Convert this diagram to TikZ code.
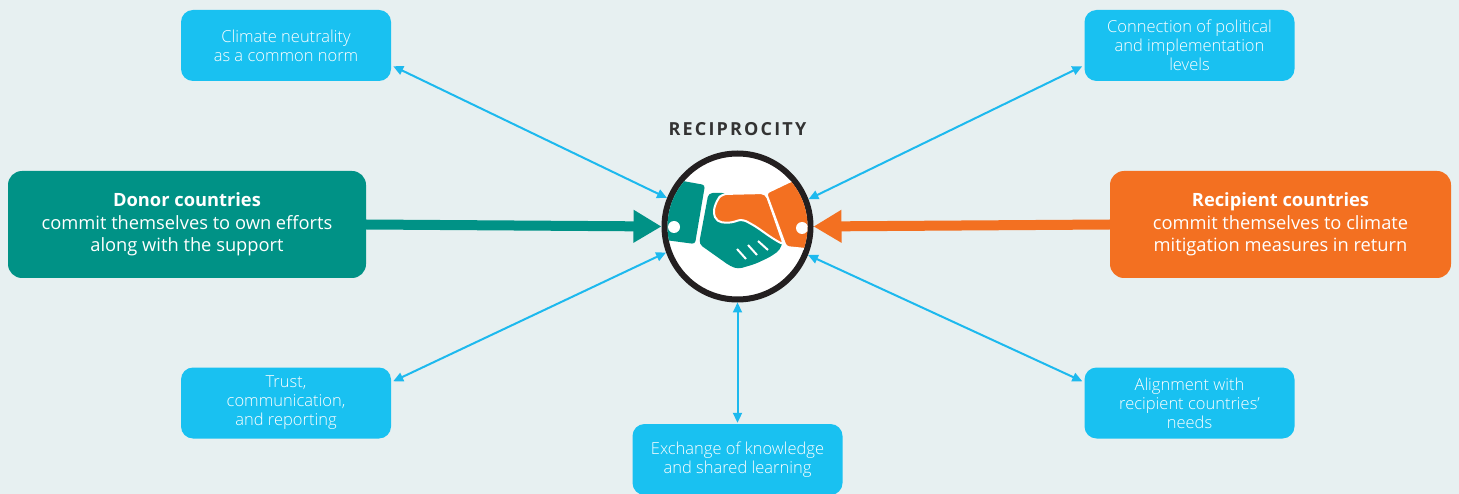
\documentclass[tikz,border=0pt]{standalone}
\usepackage{fontspec}
\setmainfont{Open Sans}
\newfontfamily\lightfont{Open Sans Light}
\usetikzlibrary{arrows.meta,calc}
\definecolor{bg}{HTML}{E7F0F1}
\definecolor{tealc}{HTML}{009286}
\definecolor{orangec}{HTML}{F37021}
\definecolor{lblue}{HTML}{19C1F1}
\definecolor{ablue}{HTML}{1DB9EE}
\definecolor{darkc}{HTML}{231F20}
\definecolor{titlec}{HTML}{333333}
\tikzset{
  smallbox/.style={fill=lblue, rounded corners=12pt, minimum width=210pt, minimum height=71pt,
    text=white, align=center, inner sep=0pt, font=\lightfont\fontsize{16.5}{19}\selectfont},
  bigbox/.style={rounded corners=14pt, minimum height=107pt,
    text=white, align=center, inner sep=0pt, font=\fontsize{18.3}{22.5}\selectfont},
  thinarrow/.style={draw=ablue, line width=2pt, {Triangle[length=10pt,width=9pt]}-{Triangle[length=10pt,width=9pt]}},
  thickarrow/.style={line width=10pt, -{Triangle[length=28pt,width=31pt]}},
}
\begin{document}
\begin{tikzpicture}[x=1pt,y=-1pt]
\useasboundingbox[fill=bg] (0,0) rectangle (1459,494);

% boxes
\node[smallbox] (climate) at (286,45.5) {Climate neutrality\\as a common norm};
\node[smallbox] (connection) at (1189.5,45.5) {Connection of political\\and implementation\\levels};
\node[smallbox] (trust) at (286,403) {Trust,\\communication,\\and reporting};
\node[smallbox] (alignment) at (1189.5,403) {Alignment with\\recipient countries’\\needs};
\node[smallbox] (exchange) at (737.5,459.5) {Exchange of knowledge\\and shared learning};
\node[bigbox, fill=tealc, minimum width=358pt] (donor) at (187,224.5)
  {\textbf{Donor countries}\\commit themselves to own efforts\\along with the support};
\node[bigbox, fill=orangec, minimum width=341pt] (recipient) at (1280.5,224.5)
  {\textbf{Recipient countries}\\commit themselves to climate\\mitigation measures in return};

% title
\node[text=titlec, font=\fontsize{18}{20}\selectfont\bfseries\addfontfeatures{LetterSpace=12}] (title) at (737.5,129) {RECIPROCITY};

% hub
\node[circle, draw=darkc, fill=white, line width=6pt, minimum size=146pt, inner sep=0pt] (hub) at (737.5,226.5) {};

% handshake
\begin{scope}
\clip (737.5,226.5) circle[radius=70pt];
% teal cuff
\fill[tealc, rounded corners=3pt] (655,176) -- (705,185) -- (695,244) -- (650,238) -- cycle;
\fill[white] (674,227) circle[radius=6pt];
% teal hand
\fill[tealc, rounded corners=4pt] (708.5,193) -- (726,193) -- (748,207) -- (770,228) -- (783,240)
  -- (780,250) -- (770,257) -- (755,264) -- (738,269) -- (730,266) -- (699,244) -- cycle;
\draw[white, line width=2pt] (737,249) -- (746,259) (748,245) -- (757,255) (758,241) -- (768,250);
% orange hand
\filldraw[fill=orangec, draw=white, line width=2pt, rounded corners=5pt]
  (722,194) -- (766,193) -- (784,245) -- (772,238) -- (755,226) -- (742,219)
  -- (731,223) -- (717,222) -- (713,212) -- (717,200) -- cycle;
% orange cuff
\filldraw[fill=orangec, draw=white, line width=2pt, rounded corners=3pt]
  (766,193) -- (791,181) -- (835,172) -- (835,252) -- (786,247) -- cycle;
\fill[white] (802,228) circle[radius=6pt];
\end{scope}

% thick arrows
\draw[thickarrow, tealc] (donor.east) -- (hub.west);
\draw[thickarrow, orangec] (recipient.west) -- (hub.east);

% thin arrows
\draw[thinarrow] ([xshift=2pt,yshift=15pt]climate.south east) -- (hub.158);
\draw[thinarrow] ([xshift=-2pt,yshift=15pt]connection.south west) -- (hub.21);
\draw[thinarrow] ([xshift=2pt,yshift=-14pt]trust.north east) -- (hub.200);
\draw[thinarrow] ([xshift=-2pt,yshift=-14pt]alignment.north west) -- (hub.338);
\draw[thinarrow] (hub.south) -- ([yshift=1pt]exchange.north);
\end{tikzpicture}
\end{document}
